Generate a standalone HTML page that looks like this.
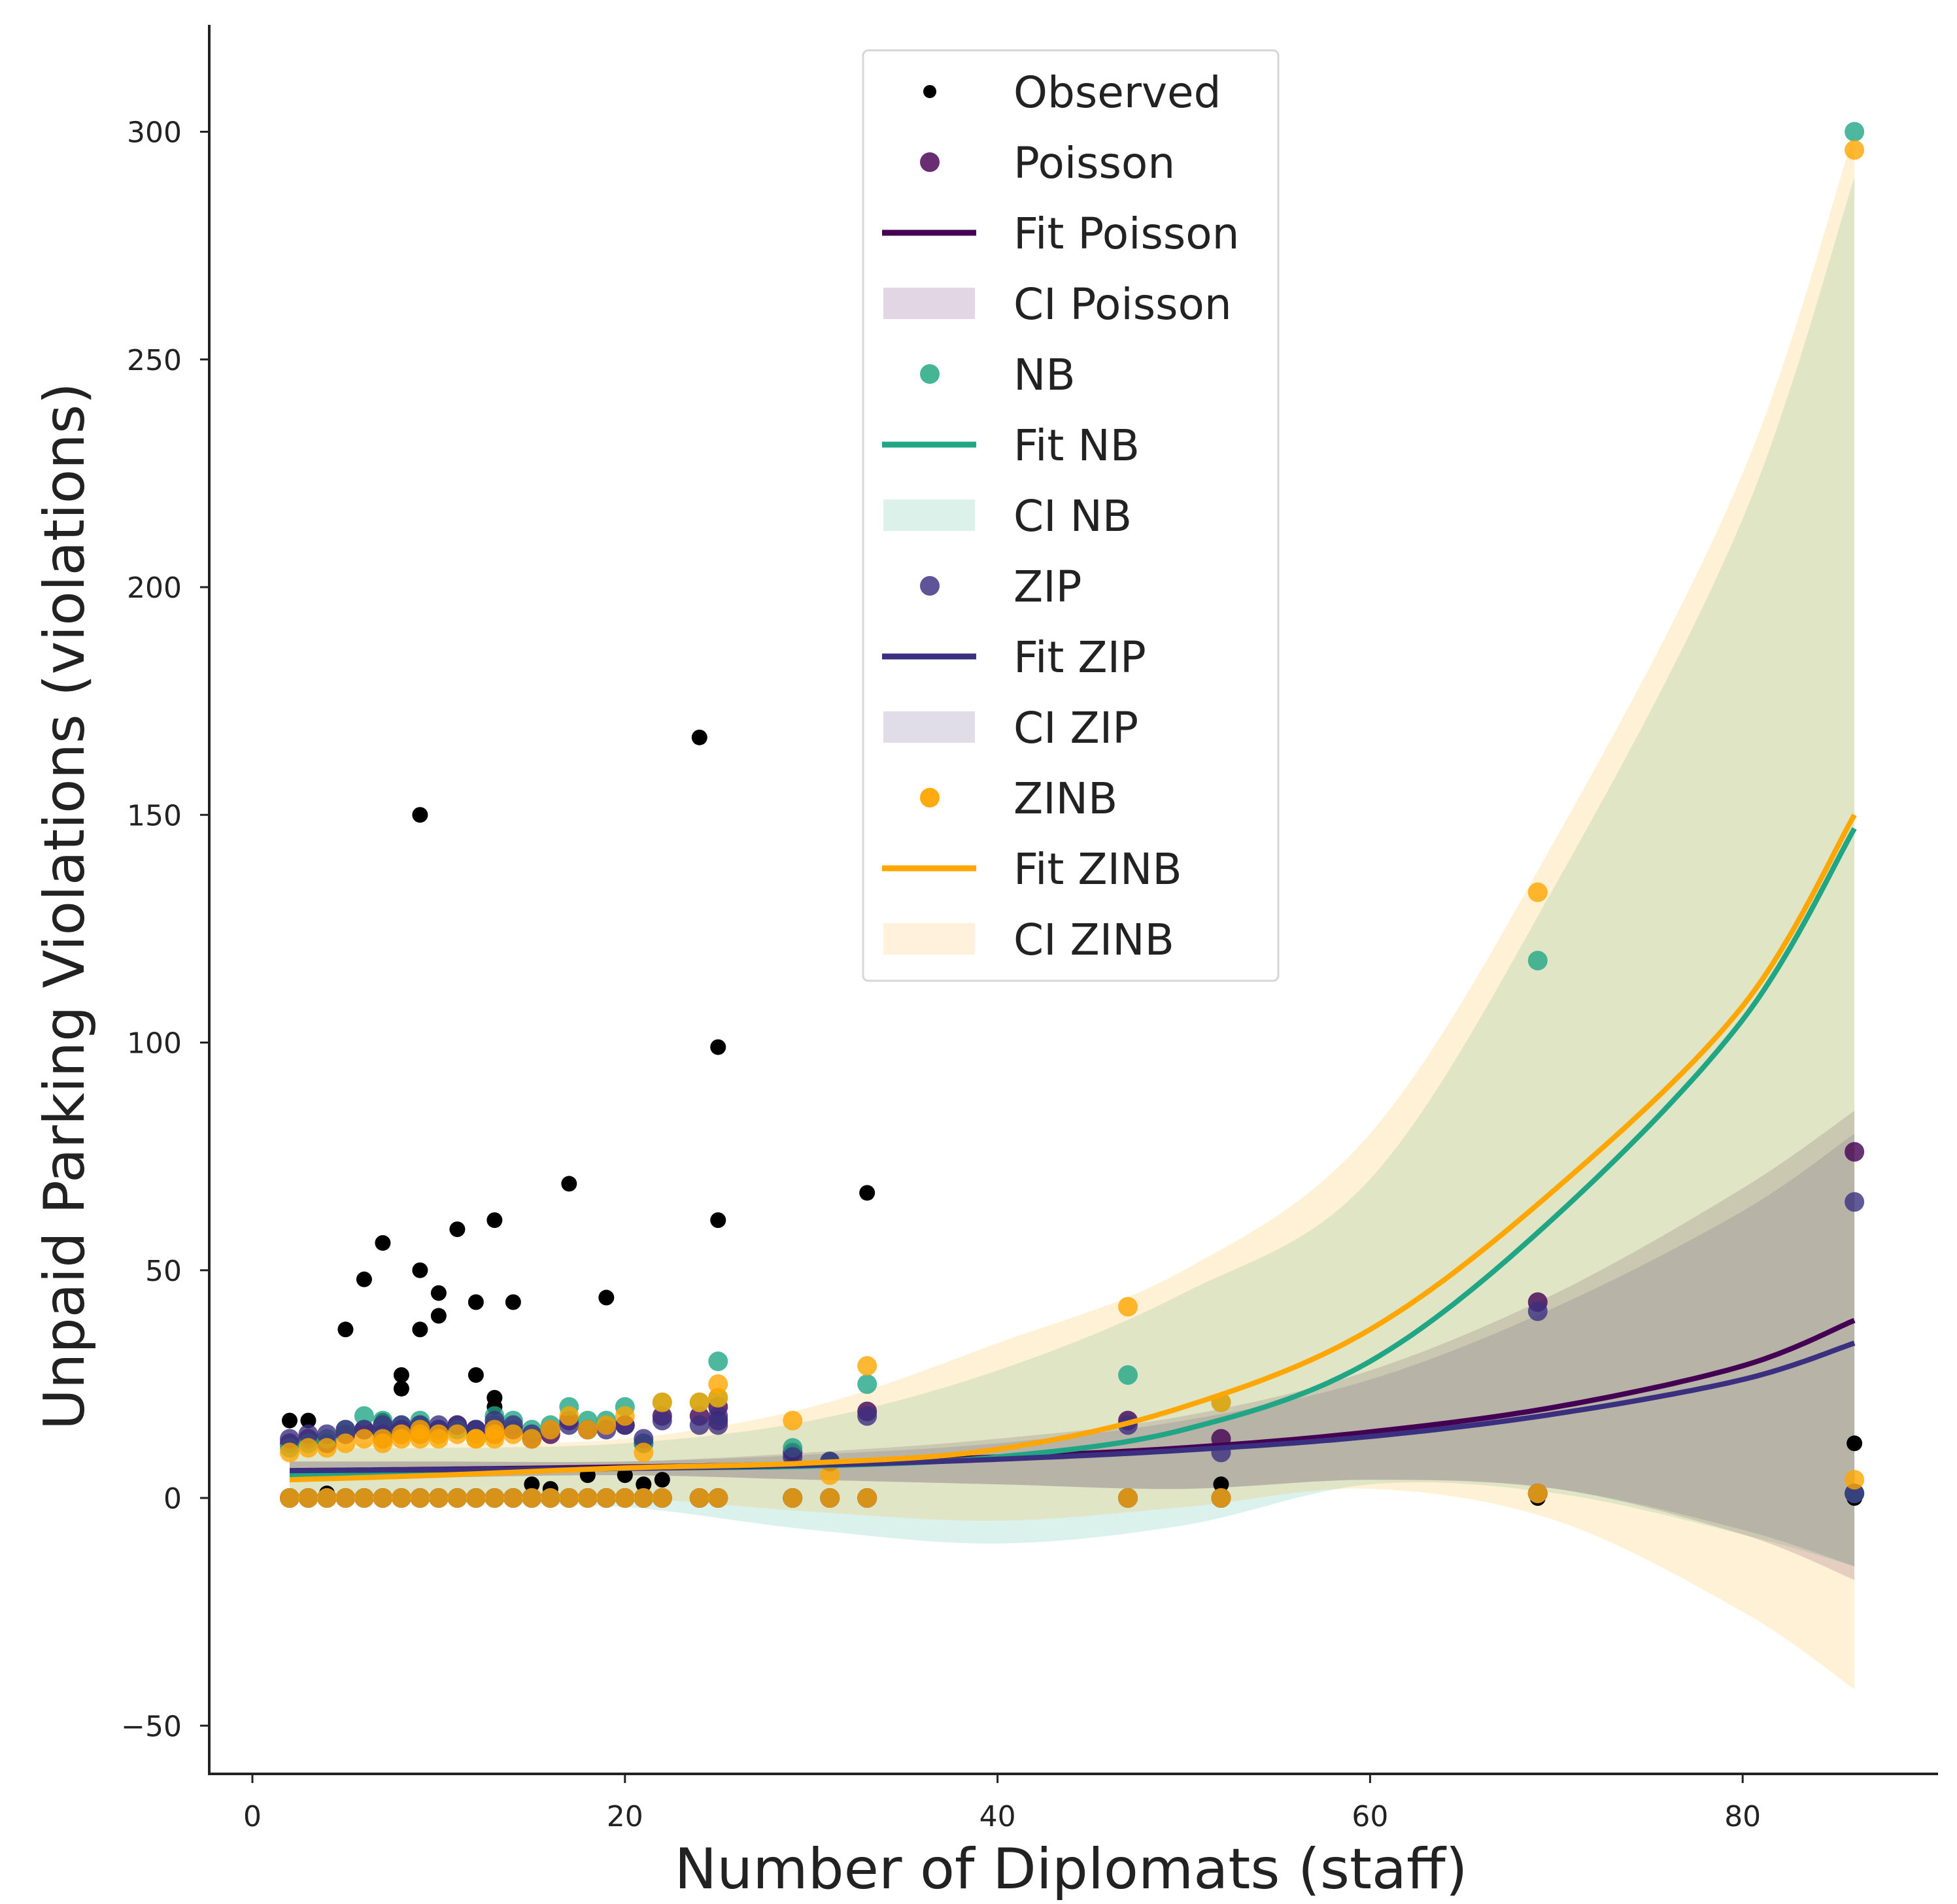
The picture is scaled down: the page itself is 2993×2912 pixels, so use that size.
<!DOCTYPE html>
<html><head><meta charset="utf-8">
<style>
html,body{margin:0;padding:0;background:#fff;}
svg{display:block;}
text{font-family:"DejaVu Sans","Liberation Sans",sans-serif;fill:#222;}
</style></head>
<body>
<svg id="chart" width="2993" height="2912" viewBox="0 0 2993 2912" xmlns="http://www.w3.org/2000/svg"></svg>
<script>
// ---- data ----
const xTicks = [0, 20, 40, 60, 80];
const yTicks = [-50, 0, 50, 100, 150, 200, 250, 300];
const obsX = [2,2,3,3,4,4,5,5,6,6,7,7,7,8,8,8,9,9,9,9,10,10,10,11,11,12,12,12,13,13,13,13,14,14,15,15,16,16,17,17,18,18,19,19,20,20,21,21,22,22,24,24,25,25,25,29,29,31,31,33,33,47,47,52,52,69,69,86,86];
const observed = [17,0,17,0,1,0,37,0,48,0,56,17,0,27,24,0,150,50,37,0,45,40,0,59,0,43,27,0,61,22,20,0,43,0,3,0,2,0,69,0,5,0,44,0,5,0,3,0,4,0,167,0,99,61,0,10,0,8,0,67,0,0,0,3,0,0,0,12,0];
const predPoisson = [12,0,13,0,12,0,14,0,15,0,16,13,0,15,14,0,16,15,14,0,15,15,0,16,0,15,14,0,16,14,14,0,15,0,13,0,14,0,17,0,15,0,16,0,16,0,12,0,18,0,18,0,20,17,0,10,0,8,0,19,0,17,0,13,0,43,1,76,1];
const predNB = [11,0,12,0,13,0,15,0,18,0,17,14,0,16,15,0,17,16,15,0,15,14,0,15,0,14,15,0,18,15,15,0,17,0,15,0,16,0,20,0,17,0,17,0,20,0,12,0,21,0,21,0,30,22,0,11,0,8,0,25,0,27,0,21,0,118,1,300,1];
const predZIP = [13,0,14,0,14,0,15,0,15,0,16,14,0,16,15,0,16,15,14,0,16,15,0,16,0,15,15,0,17,15,15,0,16,0,14,0,15,0,16,0,15,0,15,0,16,0,13,0,17,0,16,0,16,18,0,9,0,8,0,18,0,16,0,10,0,41,1,65,1];
const predZINB = [10,0,11,0,11,0,12,0,13,0,13,12,0,14,13,0,15,14,13,0,14,13,0,14,0,13,13,0,15,13,14,0,14,0,13,0,15,0,18,0,15,0,16,0,18,0,10,0,21,0,21,0,25,22,0,17,0,5,0,29,0,42,0,21,0,133,1,296,4];
const gridX = [2,10,20,30,40,50,60,70,80,86];
const fitPoisson = [6,6.3,6.8,7.5,9,11,14.5,20,29,39];
const fitNB = [5,5.5,6.5,7,9,15,30,62,105,147];
const fitZIP = [6,6.2,6.5,7.2,8.5,10.5,13.5,18.5,26,34];
const fitZINB = [4,5,6.6,7.7,10.7,20,37,68,108,150];
const ciPoissonLo = [4,4.5,5,4,3,2,4,2,-8,-18];
const ciPoissonHi = [8,8,8,10,13,18,28,45,68,85];
const ciNBLo = [0,-1,-2,-7,-10,-6,3,1,-8,-15];
const ciNBHi = [11,11,12,17,28,45,70,135,215,290];
const ciZIPLo = [4,4.5,5,4,3,2,4,2,-7,-15];
const ciZIPHi = [8,8,8,9.5,12,17,26,42,63,80];
const ciZINBLo = [0,0,0,-3,-5,-2,2,-5,-25,-42];
const ciZINBHi = [12,12,13,20,34,50,80,145,225,300];

// ---- scales ----
const X0 = 386, XPU = 28.49;
const Y0 = 2291, YPU = 6.965;
const sx = v => X0 + v * XPU;
const sy = v => Y0 - v * YPU;
const NS = 'http://www.w3.org/2000/svg';
const svg = document.getElementById('chart');
function mk(tag, attrs, parent) {
  const e = document.createElementNS(NS, tag);
  for (const k in attrs) e.setAttribute(k, attrs[k]);
  (parent || svg).appendChild(e);
  return e;
}
function smoothPts(xs, ys) {
  const p = xs.map((x, i) => [sx(x), sy(ys[i])]);
  const out = [];
  for (let i = 0; i < p.length - 1; i++) {
    const p0 = p[Math.max(0, i - 1)], p1 = p[i], p2 = p[i + 1], p3 = p[Math.min(p.length - 1, i + 2)];
    for (let t = 0; t < 1; t += 0.05) {
      const t2 = t * t, t3 = t2 * t;
      const f = (a, b, c, d) => 0.5 * ((2 * b) + (-a + c) * t + (2 * a - 5 * b + 4 * c - d) * t2 + (-a + 3 * b - 3 * c + d) * t3);
      out.push([f(p0[0], p1[0], p2[0], p3[0]), f(p0[1], p1[1], p2[1], p3[1])]);
    }
  }
  out.push(p[p.length - 1]);
  return out;
}
const ptsStr = a => a.map(q => q[0].toFixed(1) + ',' + q[1].toFixed(1)).join(' ');

// ---- bands ----
const bands = [
  ['ci-poisson-band', ciPoissonLo, ciPoissonHi, '#440154'],
  ['ci-nb-band', ciNBLo, ciNBHi, '#21a685'],
  ['ci-zip-band', ciZIPLo, ciZIPHi, '#3b2f80'],
  ['ci-zinb-band', ciZINBLo, ciZINBHi, '#ffa600']
];
bands.forEach(b => {
  const hi = smoothPts(gridX, b[2]);
  const lo = smoothPts(gridX, b[1]).reverse();
  const e = mk('polygon', {points: ptsStr(hi.concat(lo)), fill: b[3], 'fill-opacity': 0.16});
  
  
});

// ---- points ----
obsX.forEach((x, i) => {
  const e = mk('circle', {cx: sx(x), cy: sy(observed[i]), r: 12, fill: '#000'});
  
  
});
const ptSeries = [
  ['poisson-point', predPoisson, '#440154'],
  ['nb-point', predNB, '#21a685'],
  ['zip-point', predZIP, '#3b2f80'],
  ['zinb-point', predZINB, '#ffa600']
];
ptSeries.forEach(s => {
  obsX.forEach((x, i) => {
    const e = mk('circle', {cx: sx(x), cy: sy(s[1][i]), r: 15, fill: s[2], 'fill-opacity': 0.8});
    
    
  });
});

// ---- fit lines ----
const lines = [
  ['fit-poisson-line', fitPoisson, '#440154'],
  ['fit-nb-line', fitNB, '#21a685'],
  ['fit-zip-line', fitZIP, '#3b2f80'],
  ['fit-zinb-line', fitZINB, '#ffa600']
];
lines.forEach(l => {
  const e = mk('polyline', {points: ptsStr(smoothPts(gridX, l[1])), fill: 'none', stroke: l[2], 'stroke-width': 8});
  
  
});

// ---- axes ----
const axL = 320, axB = 2713, axT = 38, axR = 2964;
let e;
e = mk('line', {x1: axL, y1: axT, x2: axL, y2: axB + 2, stroke: '#222', 'stroke-width': 4});
 
e = mk('line', {x1: axL - 2, y1: axB, x2: axR, y2: axB, stroke: '#222', 'stroke-width': 4});
 
yTicks.forEach(v => {
  const t = mk('line', {x1: axL - 14, y1: sy(v), x2: axL, y2: sy(v), stroke: '#222', 'stroke-width': 3});
   
  const l = mk('text', {x: 278, y: sy(v) + 16, 'text-anchor': 'end', 'font-size': 44});
  l.textContent = v < 0 ? '\u2212' + Math.abs(v) : String(v);
   
});
xTicks.forEach(v => {
  const t = mk('line', {x1: sx(v), y1: axB, x2: sx(v), y2: axB + 14, stroke: '#222', 'stroke-width': 3});
   
  const l = mk('text', {x: sx(v), y: 2793, 'text-anchor': 'middle', 'font-size': 44});
  l.textContent = String(v);
   
});
e = mk('text', {x: 1638, y: 2888, 'text-anchor': 'middle', 'font-size': 86, textLength: 1213, lengthAdjust: 'spacingAndGlyphs'});
e.textContent = 'Number of Diplomats (staff)';
 
e = mk('text', {x: 0, y: 0, 'text-anchor': 'middle', 'font-size': 86, textLength: 1602, lengthAdjust: 'spacingAndGlyphs', transform: 'translate(128,1386) rotate(-90)'});
e.textContent = 'Unpaid Parking Violations (violations)';
 

// ---- legend ----
const lg = mk('g', {});
 
e = mk('rect', {x: 1320, y: 77, width: 635, height: 1423, rx: 8, fill: '#fff', 'fill-opacity': 0.85, stroke: '#d6d6d6', 'stroke-width': 3}, lg);
 
const entries = [
  ['Observed', 'dot', '#000', 10],
  ['Poisson', 'dot', '#6a2c72', 15],
  ['Fit Poisson', 'line', '#440154'],
  ['CI Poisson', 'rect', '#e2d6e5'],
  ['NB', 'dot', '#45b592', 15],
  ['Fit NB', 'line', '#21a685'],
  ['CI NB', 'rect', '#dcf1ea'],
  ['ZIP', 'dot', '#5f5497', 15],
  ['Fit ZIP', 'line', '#3b2f80'],
  ['CI ZIP', 'rect', '#e0dde9'],
  ['ZINB', 'dot', '#ffab10', 15],
  ['Fit ZINB', 'line', '#ffa600'],
  ['CI ZINB', 'rect', '#fff1dc']
];
entries.forEach((en, i) => {
  const cy = 140 + i * 108;
  const g = mk('g', {}, lg);
   
  if (en[1] === 'dot') mk('circle', {cx: 1422, cy: cy, r: en[3], fill: en[2]}, g);
  else if (en[1] === 'line') mk('line', {x1: 1349, y1: cy, x2: 1493, y2: cy, stroke: en[2], 'stroke-width': 9}, g);
  else mk('rect', {x: 1351, y: cy - 24, width: 140, height: 48, fill: en[2]}, g);
  const t = mk('text', {x: 1550, y: cy + 24, 'font-size': 66, fill: '#111'}, g);
  t.textContent = en[0];
});
</script>
</body></html>
